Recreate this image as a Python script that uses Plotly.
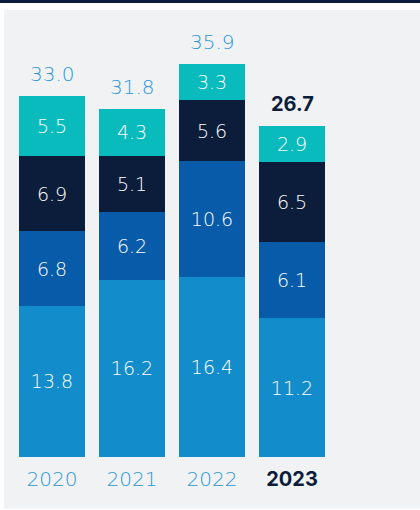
import plotly.graph_objects as go

years = ["2020", "2021", "2022", "2023"]
seg_light = [13.8, 16.2, 16.4, 11.2]
seg_mid = [6.8, 6.2, 10.6, 6.1]
seg_navy = [6.9, 5.1, 5.6, 6.5]
seg_teal = [5.5, 4.3, 3.3, 2.9]
totals = [33.0, 31.8, 35.9, 26.7]
highlight_year = "2023"

C_LIGHT = "#138ccb"
C_MID = "#085ba8"
C_NAVY = "#0b1d3a"
C_TEAL = "#09bbbd"
C_TXT = "#2c95d4"
BG = "#f1f2f4"
FONT = "DejaVu Sans"
FONT_B = "Inter"

W, H = 420, 510
T, B = 10, 52.5
plot_h = H - T - B
SCALE = 10.96      # px per unit for the earlier years
SCALE_HL = 12.42   # the highlighted year is drawn on its own scale in the original
x_idx = list(range(len(years)))
hl_idx = years.index(highlight_year)

fig = go.Figure()
for vals, col in [(seg_light, C_LIGHT), (seg_mid, C_MID), (seg_navy, C_NAVY), (seg_teal, C_TEAL)]:
    for axis, idxs in [("y", [i for i in x_idx if i != hl_idx]), ("y2", [hl_idx])]:
        fig.add_trace(go.Bar(
            x=idxs, y=[vals[i] for i in idxs], yaxis=axis,
            marker=dict(color=col, line=dict(width=0)),
            width=0.825,
            text=[f"{vals[i]:.1f}" for i in idxs], texttemplate="%{text}",
            textposition="inside", insidetextanchor="middle",
            textfont=dict(family=FONT, size=19, color="#ffffff", weight=200),
            textangle=0, constraintext="none", cliponaxis=False, hoverinfo="skip",
        ))

for i, (y, t) in enumerate(zip(years, totals)):
    hl = (y == highlight_year)
    fig.add_annotation(
        x=i, y=t, yref="y2" if hl else "y", yshift=22, yanchor="middle", xanchor="center",
        text=(f"<b>{t:.1f}</b>" if hl else f"{t:.1f}"), showarrow=False,
        font=dict(family=FONT_B if hl else FONT, size=20, color=C_NAVY if hl else C_TXT,
                  weight=700 if hl else 200),
    )

ticktext = [(f"<b><span style='color:{C_NAVY};font-family:{FONT_B}'>{y}</span></b>" if y == highlight_year
             else f"<span style='color:{C_TXT}'>{y}</span>") for y in years]

def py(q):
    return (H - B - q) / plot_h

fig.update_layout(
    width=W, height=H, barmode="stack", showlegend=False,
    margin=dict(l=0, r=0, t=T, b=B, pad=0),
    paper_bgcolor="white", plot_bgcolor="rgba(0,0,0,0)",
    font=dict(family=FONT),
    xaxis=dict(range=[-52 / 80, (W - 52) / 80], tickvals=x_idx, ticktext=ticktext,
               showgrid=False, zeroline=False, showline=False, ticks="",
               ticklabelstandoff=8,
               tickfont=dict(family=FONT, size=20, weight=200), fixedrange=True),
    yaxis=dict(range=[0, plot_h / SCALE], visible=False, fixedrange=True),
    yaxis2=dict(range=[0, plot_h / SCALE_HL], visible=False, fixedrange=True,
                overlaying="y", side="left"),
    shapes=[
        dict(type="rect", xref="paper", yref="paper", x0=4 / W, x1=1, y0=py(H - 1), y1=py(T),
             fillcolor=BG, line=dict(width=0), layer="below"),
        dict(type="rect", xref="paper", yref="paper", x0=0, x1=1, y0=py(3), y1=py(0),
             fillcolor=C_NAVY, line=dict(width=0), layer="below"),
    ],
)

fig.write_html("out.html", config={"displayModeBar": False},
               post_script="document.body.style.margin='0';document.body.style.overflow='hidden';")
